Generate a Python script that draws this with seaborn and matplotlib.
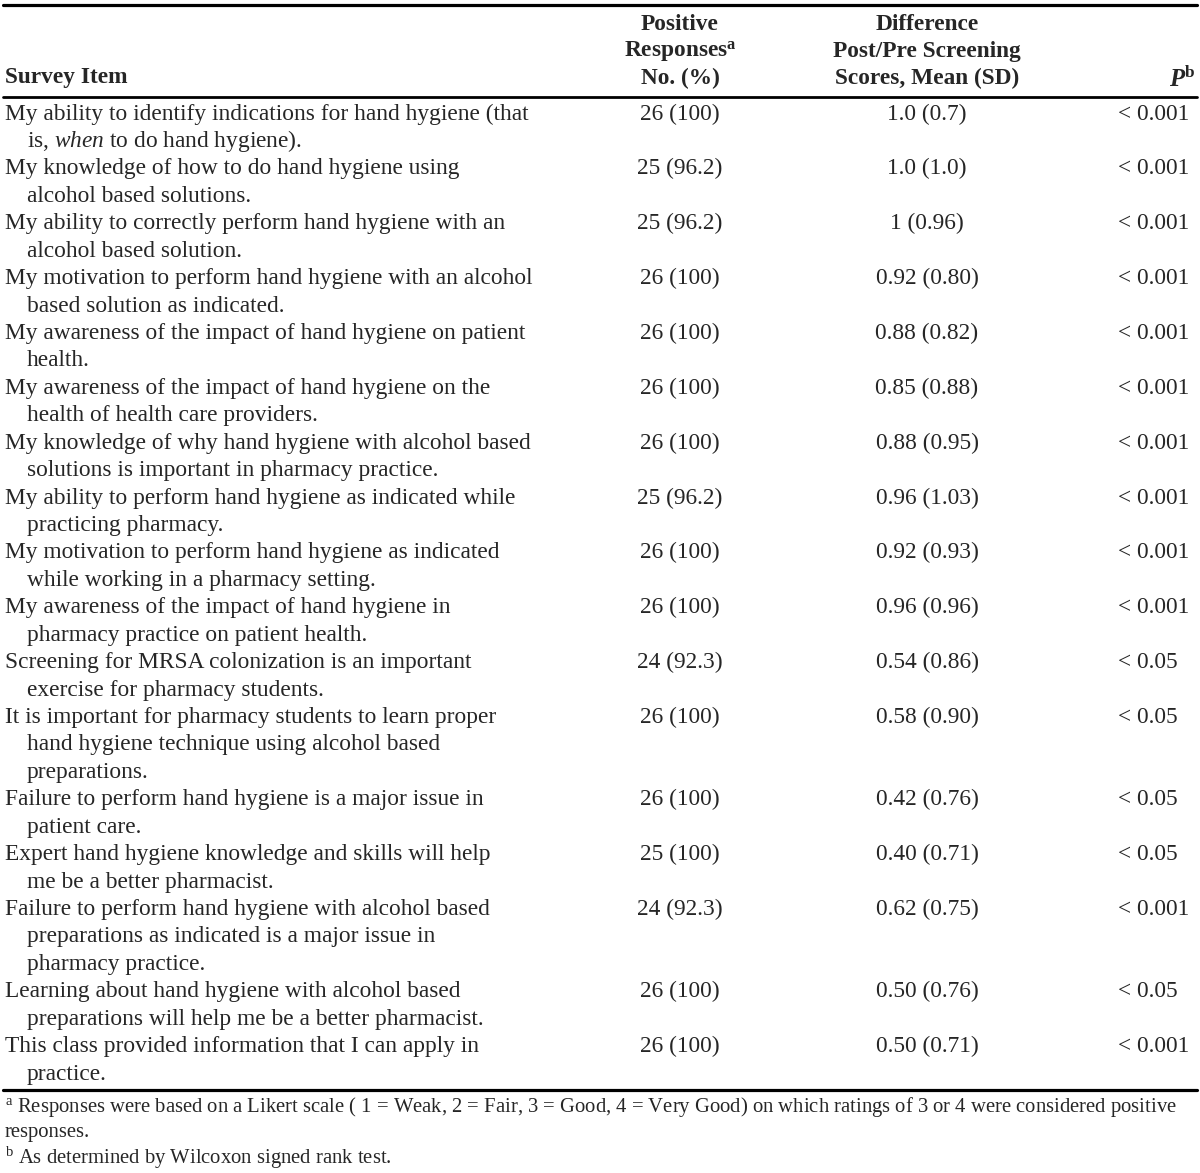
import matplotlib
matplotlib.use("Agg")
import matplotlib.pyplot as plt
import seaborn as sns

sns.set_theme(style="white")
plt.rcParams['font.family'] = ['Liberation Serif', 'DejaVu Serif']
plt.rcParams['mathtext.fontset'] = 'custom'
plt.rcParams['mathtext.rm'] = 'Liberation Serif'
plt.rcParams['mathtext.it'] = 'Liberation Serif:italic'
plt.rcParams['mathtext.bf'] = 'Liberation Serif:bold'
plt.rcParams['mathtext.bfit'] = 'Liberation Serif:italic:bold'

# table data
items = [
    ["My ability to identify indications for hand hygiene (that", r"is, $\mathit{when}$ to do hand hygiene)."],
    ["My knowledge of how to do hand hygiene using", "alcohol based solutions."],
    ["My ability to correctly perform hand hygiene with an", "alcohol based solution."],
    ["My motivation to perform hand hygiene with an alcohol", "based solution as indicated."],
    ["My awareness of the impact of hand hygiene on patient", "health."],
    ["My awareness of the impact of hand hygiene on the", "health of health care providers."],
    ["My knowledge of why hand hygiene with alcohol based", "solutions is important in pharmacy practice."],
    ["My ability to perform hand hygiene as indicated while", "practicing pharmacy."],
    ["My motivation to perform hand hygiene as indicated", "while working in a pharmacy setting."],
    ["My awareness of the impact of hand hygiene in", "pharmacy practice on patient health."],
    ["Screening for MRSA colonization is an important", "exercise for pharmacy students."],
    ["It is important for pharmacy students to learn proper", "hand hygiene technique using alcohol based", "preparations."],
    ["Failure to perform hand hygiene is a major issue in", "patient care."],
    ["Expert hand hygiene knowledge and skills will help", "me be a better pharmacist."],
    ["Failure to perform hand hygiene with alcohol based", "preparations as indicated is a major issue in", "pharmacy practice."],
    ["Learning about hand hygiene with alcohol based", "preparations will help me be a better pharmacist."],
    ["This class provided information that I can apply in", "practice."],
]
positive = ["26 (100)", "25 (96.2)", "25 (96.2)", "26 (100)", "26 (100)", "26 (100)", "26 (100)",
            "25 (96.2)", "26 (100)", "26 (100)", "24 (92.3)", "26 (100)", "26 (100)", "25 (100)",
            "24 (92.3)", "26 (100)", "26 (100)"]
difference = ["1.0 (0.7)", "1.0 (1.0)", "1 (0.96)", "0.92 (0.80)", "0.88 (0.82)", "0.85 (0.88)",
              "0.88 (0.95)", "0.96 (1.03)", "0.92 (0.93)", "0.96 (0.96)", "0.54 (0.86)", "0.58 (0.90)",
              "0.42 (0.76)", "0.40 (0.71)", "0.62 (0.75)", "0.50 (0.76)", "0.50 (0.71)"]
pvalues = ["< 0.001"] * 10 + ["< 0.05", "< 0.05", "< 0.05", "< 0.05", "< 0.001", "< 0.05", "< 0.001"]

footnotes = [
    r"$^{\mathrm{a}}$ Responses were based on a Likert scale ( 1 = Weak, 2 = Fair, 3 = Good, 4 = Very Good) on which ratings of 3 or 4 were considered positive",
    "responses.",
    r"$^{\mathrm{b}}$ As determined by Wilcoxon signed rank test.",
]

W, H = 1200, 1173
fig = plt.figure(figsize=(12, 11.73), dpi=100)
ax = fig.add_axes([0, 0, 1, 1])
ax.set_xlim(0, W)
ax.set_ylim(H, 0)
ax.axis('off')

fs = 16.8
x_item, x_indent, x_pos, x_diff, x_p = 5, 27, 680, 927, 1118
line_h = 27.43

# rules
ax.plot([3, 1197], [5, 5], color='black', lw=2.3)
ax.plot([3, 1197], [96.5, 96.5], color='black', lw=2.0)
ax.plot([3, 1197], [1090, 1090], color='black', lw=2.3)

# header
hy = [24, 51, 78]
ax.text(x_item, hy[2], "Survey Item", fontsize=fs, fontweight='bold', va='center', ha='left')
ax.text(x_pos, hy[0], "Positive", fontsize=fs, fontweight='bold', va='center', ha='center')
ax.text(x_pos, hy[1], r"Responses$^{\mathbf{a}}$", fontsize=fs, fontweight='bold', va='center', ha='center')
ax.text(x_pos, hy[2], "No. (%)", fontsize=fs, fontweight='bold', va='center', ha='center')
ax.text(x_diff, hy[0], "Difference", fontsize=fs, fontweight='bold', va='center', ha='center')
ax.text(x_diff, hy[1], "Post/Pre Screening", fontsize=fs, fontweight='bold', va='center', ha='center')
ax.text(x_diff, hy[2], "Scores, Mean (SD)", fontsize=fs, fontweight='bold', va='center', ha='center')
ax.text(1195, hy[2], r"$\mathbfit{P}^{\mathbf{b}}$", fontsize=fs + 1, va='center', ha='right')

# body
y = 114
for lines, pos, diff, p in zip(items, positive, difference, pvalues):
    for k, ln in enumerate(lines):
        ax.text(x_item if k == 0 else x_indent, y + k * line_h, ln, fontsize=fs, va='center', ha='left')
    ax.text(x_pos, y, pos, fontsize=fs, va='center', ha='center')
    ax.text(x_diff, y, diff, fontsize=fs, va='center', ha='center')
    ax.text(x_p, y, p, fontsize=fs, va='center', ha='left')
    y += len(lines) * line_h

# footnotes
for k, ft in enumerate(footnotes):
    ax.text(x_item, 1107 + k * 25.5, ft, fontsize=14.9, va='center', ha='left')

fig.savefig("out.png", dpi=100, facecolor='white')
